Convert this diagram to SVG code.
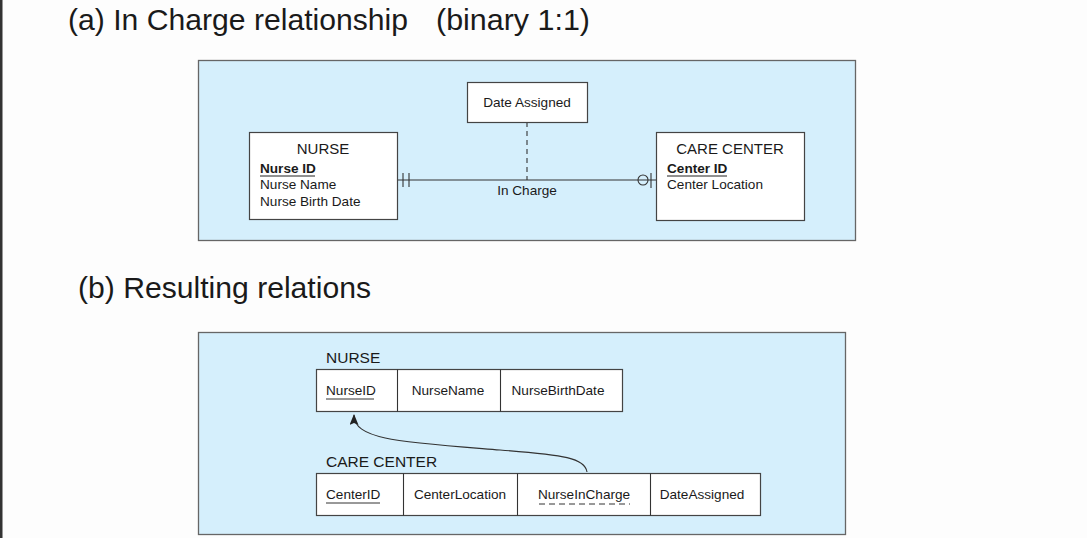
<svg xmlns="http://www.w3.org/2000/svg" width="1087" height="538" viewBox="0 0 1087 538">
<style>
text{font-family:"Liberation Sans",Arial,sans-serif;fill:#1a1a1a}
.title{font-size:29px}
.t{font-size:13.6px}
.h{font-size:15px}
.lbl{font-size:15.5px}
.panel{fill:#d5effc;stroke:#666;stroke-width:1.3}
.box{fill:#fff;stroke:#444;stroke-width:1.2}
.ln{stroke:#333;stroke-width:1.1;fill:none}
</style>
<defs>
<marker id="arr" viewBox="0 0 12 10" refX="11" refY="5" markerWidth="11" markerHeight="9" orient="auto-start-reverse" markerUnits="userSpaceOnUse">
<path d="M0,0 L12,5 L0,10 L2,5 z" fill="#222"/>
</marker>
</defs>
<rect x="0" y="0" width="1087" height="538" fill="#fdfdfd"/>
<rect x="0" y="0" width="2.5" height="538" fill="#333"/>
<text class="title" x="68" y="30" textLength="340" lengthAdjust="spacingAndGlyphs">(a) In Charge relationship</text>
<text class="title" x="436" y="30" textLength="154" lengthAdjust="spacingAndGlyphs">(binary 1:1)</text>
<text class="title" x="78" y="298" textLength="293" lengthAdjust="spacingAndGlyphs">(b) Resulting relations</text>
<rect class="panel" x="198.5" y="60.5" width="657" height="180"/>
<rect class="panel" x="198.5" y="332.5" width="647" height="202"/>
<g id="connectors">
<line class="ln" x1="397" y1="180" x2="656" y2="180"/>
<line class="ln" x1="403" y1="173" x2="403" y2="187"/>
<line class="ln" x1="409" y1="173" x2="409" y2="187"/>
<circle class="ln" cx="643" cy="180" r="5" fill="#d5effc"/>
<line class="ln" x1="651" y1="173" x2="651" y2="188"/>
<line class="ln" x1="527" y1="122" x2="527" y2="180" stroke-dasharray="5,4"/>
<text class="t" x="527" y="195" text-anchor="middle">In Charge</text>
<path class="ln" d="M587,472 C585,458 565,455 500,450 C400,442 354,440 354,415" marker-end="url(#arr)"/>
</g>
<g id="nurse">
<rect class="box" x="249.5" y="132.5" width="148" height="87"/>
<text class="h" x="323" y="154" text-anchor="middle">NURSE</text>
<text class="t" x="260" y="173" font-weight="bold">Nurse ID</text>
<line x1="260" y1="176" x2="315" y2="176" stroke="#222" stroke-width="1"/>
<text class="t" x="260" y="189">Nurse Name</text>
<text class="t" x="260" y="206">Nurse Birth Date</text>
</g>
<g id="date-assigned">
<rect class="box" x="467.5" y="82.5" width="120" height="40"/>
<text class="t" x="527" y="107" text-anchor="middle">Date Assigned</text>
</g>
<g id="care-center">
<rect class="box" x="656.5" y="132.5" width="148" height="88"/>
<text class="h" x="730" y="154" text-anchor="middle">CARE CENTER</text>
<text class="t" x="667" y="173" font-weight="bold">Center ID</text>
<line x1="667" y1="176" x2="727" y2="176" stroke="#222" stroke-width="1"/>
<text class="t" x="667" y="189">Center Location</text>
</g>
<g id="nurse-relation">
<text class="lbl" x="326" y="363">NURSE</text>
<rect class="box" x="316.5" y="369.5" width="306" height="42"/>
<line class="ln" x1="397.5" y1="369.5" x2="397.5" y2="411.5"/>
<line class="ln" x1="500.5" y1="369.5" x2="500.5" y2="411.5"/>
<text class="t" x="326" y="395">NurseID</text>
<line x1="326" y1="399" x2="374" y2="399" stroke="#333" stroke-width="1"/>
<text class="t" x="448" y="395" text-anchor="middle">NurseName</text>
<text class="t" x="558" y="395" text-anchor="middle">NurseBirthDate</text>
</g>
<g id="care-center-relation">
<text class="lbl" x="326" y="467">CARE CENTER</text>
<rect class="box" x="316.5" y="473.5" width="444" height="42"/>
<line class="ln" x1="403.5" y1="473.5" x2="403.5" y2="515.5"/>
<line class="ln" x1="517.5" y1="473.5" x2="517.5" y2="515.5"/>
<line class="ln" x1="650.5" y1="473.5" x2="650.5" y2="515.5"/>
<text class="t" x="326" y="499">CenterID</text>
<line x1="326" y1="503" x2="380" y2="503" stroke="#333" stroke-width="1"/>
<text class="t" x="460" y="499" text-anchor="middle">CenterLocation</text>
<text class="t" x="584" y="499" text-anchor="middle">NurseInCharge</text>
<line x1="539" y1="504" x2="630" y2="504" stroke="#333" stroke-width="1" stroke-dasharray="6,4"/>
<text class="t" x="702" y="499" text-anchor="middle">DateAssigned</text>
</g>
</svg>
